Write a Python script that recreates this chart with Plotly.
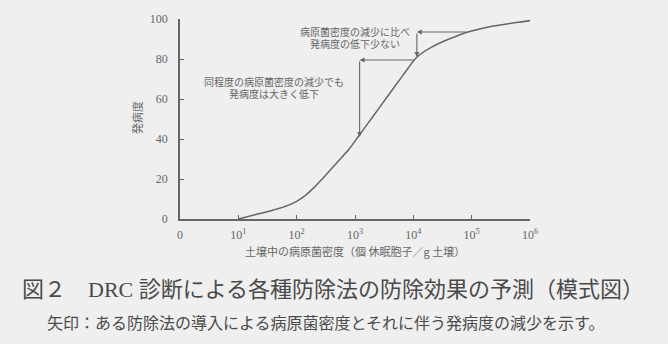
import math
import plotly.graph_objects as go

# ---- data ----
density = [10, 20, 40, 71, 100, 141, 200, 316, 501, 794, 1122, 2000, 3548,
           5623, 7943, 10720, 14130, 19950, 31620, 50120, 89130, 177800,
           354800, 631000, 1070000]
disease = [0, 2.2, 4.5, 6.8, 8.8, 11.8, 15.8, 22, 28.5, 35, 41, 51, 61,
           69, 75, 80, 83, 85.7, 88.6, 91, 93.6, 95.8, 97.3, 98.4, 99.3]

x_tickvals = [1, 10, 100, 1000, 10000, 100000, 1000000]
x_ticktext = ["0", "10<sup>1</sup>", "10<sup>2</sup>", "10<sup>3</sup>",
              "10<sup>4</sup>", "10<sup>5</sup>", "10<sup>6</sup>"]
y_tickvals = [0, 20, 40, 60, 80, 100]

# arrows: (start density, start disease, corner density, end disease)
arrow_low = (10700, 79.5, 1200, 41)
arrow_high = (83000, 93.5, 11500, 81)

label_high = ["病原菌密度の減少に比べ", "発病度の低下少ない"]
label_low = ["同程度の病原菌密度の減少でも", "発病度は大きく低下"]

x_title = "土壌中の病原菌密度（個 休眠胞子／g 土壌）"
y_title = "発病度"
caption1 = "図２　DRC 診断による各種防除法の防除効果の予測（模式図）"
caption2 = "矢印：ある防除法の導入による病原菌密度とそれに伴う発病度の減少を示す。"

# ---- style ----
BG = "#efefef"
INK = "#666666"
SERIF = "Liberation Serif, Noto Sans CJK JP"
CJK = "Noto Sans CJK JP"

L, R, T, B = 180, 138, 19, 125
W, H = 668, 344
PH = H - T - B
PW = W - L - R


def py(p):
    return (H - B - p) / PH


def px(p):
    return (p - L) / PW


fig = go.Figure()
fig.add_trace(go.Scatter(x=density, y=disease, mode="lines",
                         line=dict(color=INK, width=1.5, shape="spline", smoothing=1),
                         hoverinfo="skip", showlegend=False))

ann = []


def add_arrow(spec):
    x0, y0, xc, y1 = spec
    ann.append(dict(x=math.log10(xc), y=y0, ax=math.log10(x0), ay=y0,
                    xref="x", yref="y", axref="x", ayref="y", text="",
                    showarrow=True, arrowhead=2, arrowsize=0.9, arrowwidth=1.1,
                    arrowcolor=INK))
    ann.append(dict(x=math.log10(xc), y=y1, ax=math.log10(xc), ay=y0,
                    xref="x", yref="y", axref="x", ayref="y", text="",
                    showarrow=True, arrowhead=2, arrowsize=0.9, arrowwidth=1.1,
                    arrowcolor=INK))


add_arrow(arrow_low)
add_arrow(arrow_high)

for i, t in enumerate(label_high):
    ann.append(dict(x=px(355), y=py(32 + i * 11.5), xref="paper", yref="paper",
                    text=t, showarrow=False, xanchor="center", yanchor="middle",
                    font=dict(family=CJK, size=10, color=INK)))
for i, t in enumerate(label_low):
    ann.append(dict(x=px(274), y=py(82 + i * 11.5), xref="paper", yref="paper",
                    text=t, showarrow=False, xanchor="center", yanchor="middle",
                    font=dict(family=CJK, size=10, color=INK)))

ann.append(dict(x=px(355), y=py(251), xref="paper", yref="paper", text=x_title,
                showarrow=False, xanchor="center", yanchor="middle",
                font=dict(family=CJK, size=11, color=INK)))
ann.append(dict(x=px(137), y=py(118), xref="paper", yref="paper", text=y_title,
                showarrow=False, xanchor="center", yanchor="middle", textangle=-90,
                font=dict(family=CJK, size=11, color=INK)))
ann.append(dict(x=px(333), y=py(289), xref="paper", yref="paper", text=caption1,
                showarrow=False, xanchor="center", yanchor="middle",
                font=dict(family=SERIF, size=22, color="#4a4a4a")))
ann.append(dict(x=px(325), y=py(322), xref="paper", yref="paper", text=caption2,
                showarrow=False, xanchor="center", yanchor="middle",
                font=dict(family=CJK, size=16, color="#4a4a4a")))

fig.update_layout(
    width=W, height=H,
    margin=dict(l=L, r=R, t=T, b=B, pad=0),
    paper_bgcolor=BG, plot_bgcolor=BG,
    annotations=ann,
    xaxis=dict(type="log", range=[0, 6], tickvals=x_tickvals, ticktext=x_ticktext,
               showline=True, linecolor=INK, linewidth=1.5, ticks="inside",
               ticklen=4, tickwidth=1, tickcolor=INK, showgrid=False, zeroline=False,
               tickfont=dict(family=SERIF, size=12, color=INK), ticklabelstandoff=4),
    yaxis=dict(range=[0, 100], tickvals=y_tickvals, showline=True, linecolor=INK,
               linewidth=1.5, ticks="inside", ticklen=4, tickwidth=1, tickcolor=INK,
               showgrid=False, zeroline=False,
               tickfont=dict(family=SERIF, size=12, color=INK), ticklabelstandoff=8),
)

fig.write_html("out.html")
